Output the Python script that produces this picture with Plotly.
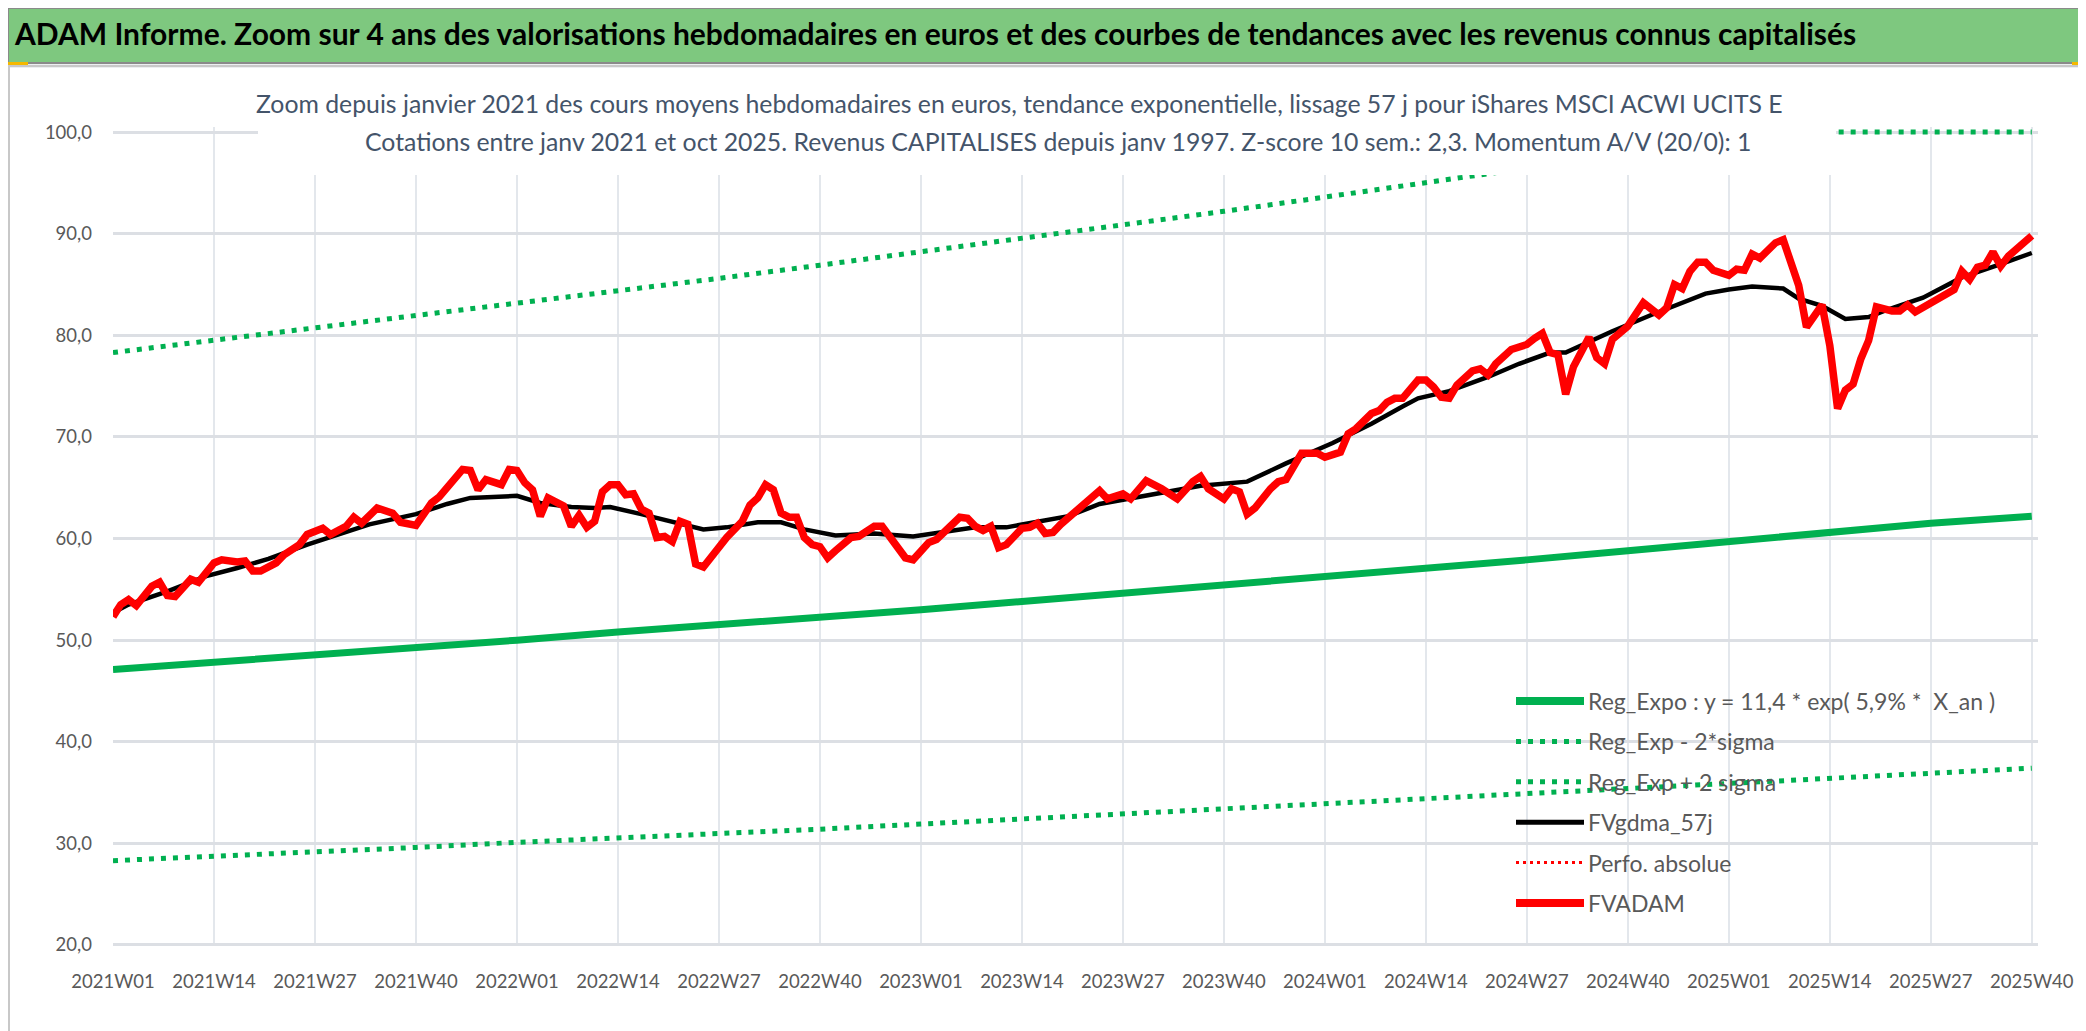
import plotly.graph_objs as go

# --- data (week index 0 = 2021W01) ---
tick_weeks = [0, 13, 26, 39, 52, 65, 78, 91, 104, 117, 130, 143, 156, 169, 182, 195, 208, 221, 234, 247]
tick_labels = ["2021W01", "2021W14", "2021W27", "2021W40", "2022W01", "2022W14", "2022W27", "2022W40",
               "2023W01", "2023W14", "2023W27", "2023W40", "2024W01", "2024W14", "2024W27", "2024W40",
               "2025W01", "2025W14", "2025W27", "2025W40"]

reg_expo = [47.1, 47.8, 48.6, 49.3, 50.0, 50.8, 51.5, 52.3, 53.0, 53.8,
            54.6, 55.4, 56.2, 57.1, 57.9, 58.8, 59.7, 60.6, 61.5, 62.2]
reg_minus = [28.3, 28.7, 29.2, 29.6, 30.1, 30.5, 31.0, 31.4, 31.9, 32.4,
             32.8, 33.3, 33.8, 34.3, 34.8, 35.3, 35.8, 36.4, 36.9, 37.4]
reg_plus = [78.3, 79.5, 80.7, 81.9, 83.1, 84.3, 85.6, 86.9, 88.2, 89.5,
            90.8, 92.2, 93.6, 95.0, 96.4, 97.8, 99.3, 100.0, 100.0, 100.0]

gdma_weeks = [0, 2, 7, 12, 16, 20, 25, 29, 33, 39, 43, 46, 50, 52, 55, 59, 62, 64, 68, 72,
              76, 79, 83, 86, 89, 93, 98, 103, 107, 111, 115, 119, 123, 127, 132, 136, 140, 146, 151, 157,
              162, 166, 168, 172, 177, 181, 185, 187, 189, 193, 198, 202, 205, 208, 211, 215, 217, 220, 223, 226,
              228, 233, 238, 243, 247]
gdma_values = [52.7, 53.5, 54.8, 56.3, 57.1, 58.0, 59.4, 60.4, 61.4, 62.4, 63.4, 64.0, 64.1, 64.2, 63.5, 63.1, 63.0, 63.1, 62.4, 61.6,
               60.9, 61.1, 61.6, 61.6, 60.9, 60.3, 60.5, 60.2, 60.6, 61.1, 61.1, 61.6, 62.2, 63.4, 64.1, 64.7, 65.2, 65.6, 67.4, 69.4,
               71.3, 73.0, 73.8, 74.5, 75.9, 77.2, 78.3, 78.3, 79.0, 80.4, 82.0, 83.2, 84.1, 84.5, 84.8, 84.6, 83.6, 82.9, 81.6, 81.8,
               82.4, 83.7, 85.7, 87.0, 88.1]

adam_weeks = [0, 1, 2, 3, 5, 6, 7, 8, 10, 11, 13, 14, 16, 17, 18, 19, 21, 22, 24, 25,
              27, 28, 30, 31, 32, 34, 36, 37, 39, 41, 42, 43, 44, 45, 46, 47, 48, 50, 51, 52,
              53, 54, 55, 56, 58, 59, 60, 61, 62, 63, 64, 65, 66, 67, 68, 69, 70, 71, 72, 73,
              74, 75, 76, 78, 79, 81, 82, 83, 84, 85, 86, 87, 88, 89, 90, 91, 92, 93, 95, 96,
              97, 98, 99, 100, 101, 102, 103, 104, 105, 106, 107, 108, 109, 110, 111, 112, 113, 114, 115, 116,
              117, 118, 119, 120, 121, 122, 123, 124, 125, 127, 128, 130, 131, 133, 135, 137, 139, 140, 141, 143,
              144, 145, 146, 147, 149, 150, 151, 153, 155, 156, 158, 159, 160, 162, 163, 164, 165, 166, 168, 169,
              170, 171, 172, 173, 175, 176, 177, 178, 180, 182, 183, 184, 185, 186, 187, 188, 190, 191, 192, 193,
              195, 197, 199, 200, 201, 202, 203, 204, 205, 206, 208, 209, 210, 211, 212, 214, 215, 216, 217, 218,
              219, 220, 221, 222, 223, 224, 225, 226, 227, 229, 230, 231, 232, 233, 235, 237, 238, 239, 240, 241,
              242, 243, 244, 245, 246, 247]
adam_values = [52.3, 53.5, 54.0, 53.4, 55.3, 55.7, 54.4, 54.3, 56.0, 55.7, 57.6, 57.9, 57.7, 57.8, 56.8, 56.8, 57.6, 58.4, 59.4, 60.4,
               61.0, 60.4, 61.2, 62.1, 61.5, 63.0, 62.5, 61.6, 61.3, 63.5, 64.1, 65.0, 65.7, 66.8, 66.7, 64.8, 65.8, 65.3, 66.8, 66.7,
               65.5, 64.8, 62.2, 64.0, 63.2, 61.2, 62.3, 61.1, 61.7, 64.6, 65.3, 65.3, 64.3, 64.4, 62.9, 62.5, 60.1, 60.2, 59.7, 61.7,
               61.4, 57.5, 57.2, 59.1, 60.1, 61.7, 63.3, 64.0, 65.3, 64.8, 62.5, 62.1, 62.1, 60.1, 59.4, 59.2, 58.1, 58.8, 60.1, 60.2,
               60.8, 61.2, 61.2, 60.2, 59.4, 58.1, 57.9, 58.8, 59.6, 59.9, 60.6, 61.4, 62.1, 62.0, 61.2, 60.8, 61.2, 59.1, 59.4, 60.2,
               61.0, 61.1, 61.5, 60.5, 60.6, 61.4, 62.1, 62.8, 63.4, 64.7, 63.9, 64.4, 63.9, 65.7, 64.9, 63.9, 65.6, 66.1, 64.9, 63.9,
               64.9, 64.6, 62.4, 63.0, 64.9, 65.6, 65.8, 68.4, 68.4, 68.0, 68.5, 70.3, 70.8, 72.3, 72.6, 73.4, 73.8, 73.8, 75.6, 75.6,
               74.9, 73.9, 73.8, 75.1, 76.5, 76.7, 76.1, 77.2, 78.6, 79.1, 79.7, 80.2, 78.3, 78.1, 74.2, 76.9, 79.8, 77.8, 77.2, 79.6,
               80.9, 83.2, 82.0, 82.7, 85.0, 84.6, 86.3, 87.2, 87.2, 86.4, 85.9, 86.5, 86.4, 88.0, 87.6, 89.1, 89.4, 87.3, 84.9, 80.8,
               81.9, 83.0, 79.0, 72.8, 74.6, 75.2, 77.7, 79.5, 82.8, 82.4, 82.4, 83.0, 82.3, 82.7, 83.6, 84.5, 86.3, 85.5, 86.7, 86.9,
               88.2, 86.8, 87.8, 88.5, 89.3, 89.8]

y_ticks = [20, 30, 40, 50, 60, 70, 80, 90, 100]

main_title = ("ADAM Informe. Zoom sur 4 ans des valorisations hebdomadaires en euros et des courbes "
              "de tendances avec les revenus connus capitalisés")
chart_title_1 = ("Zoom depuis janvier 2021 des cours moyens hebdomadaires en euros, tendance exponentielle, "
                 "lissage 57 j pour iShares MSCI ACWI UCITS E")
chart_title_2 = ("Cotations entre janv 2021 et oct 2025. Revenus CAPITALISES depuis janv 1997. "
                 "Z-score 10 sem.: 2,3. Momentum A/V (20/0): 1")

GREEN = "#00b050"
RED = "#ff0000"
GREY_TXT = "#595959"
FONT = "Lato, Liberation Sans, sans-serif"

FIG_W, FIG_H = 2086, 1031
M_L, M_R, M_T, M_B = 105, 56, 119, 93
PLOT_W = FIG_W - M_L - M_R
PLOT_H = FIG_H - M_T - M_B


def px(x):
    return (x - M_L) / PLOT_W


def py(y):
    return (FIG_H - M_B - y) / PLOT_H


fig = go.Figure()

fig.add_trace(go.Scatter(x=tick_weeks, y=reg_expo, mode="lines",
                         line=dict(color=GREEN, width=7)))
fig.add_trace(go.Scatter(x=tick_weeks, y=reg_minus, mode="lines",
                         line=dict(color=GREEN, width=5, dash="5px,7px")))
fig.add_trace(go.Scatter(x=tick_weeks, y=reg_plus, mode="lines",
                         line=dict(color=GREEN, width=5, dash="5px,7px")))
fig.add_trace(go.Scatter(x=gdma_weeks, y=gdma_values, mode="lines",
                         line=dict(color="black", width=4.5)))
fig.add_trace(go.Scatter(x=adam_weeks, y=adam_values, mode="lines",
                         line=dict(color=RED, width=7.5)))

shapes = []
annotations = []

# title band
shapes.append(dict(type="rect", xref="paper", yref="paper", layer="above",
                   x0=px(0), x1=px(FIG_W), y0=py(0), y1=py(55),
                   fillcolor="#7ec87f", line=dict(color="#8a8a8a", width=2)))
shapes.append(dict(type="line", xref="paper", yref="paper",
                   x0=px(0), x1=px(FIG_W), y0=py(58), y1=py(58),
                   line=dict(color="#dcdfe4", width=3)))
annotations.append(dict(xref="paper", yref="paper", x=px(4), y=py(25),
                        xanchor="left", yanchor="middle", showarrow=False,
                        text="<b>" + main_title + "</b>",
                        font=dict(family=FONT, size=30, color="black")))

# chart frame + excel selection handles
shapes.append(dict(type="rect", xref="paper", yref="paper",
                   x0=px(1), x1=px(2081), y0=py(58), y1=py(1027),
                   line=dict(color="#c8c8c8", width=2)))
for (x0, x1, y0, y1) in [(0, 20, 54, 57), (2064, 2084, 54, 57), (2081, 2084, 54, 80), (2081, 2084, 985, 1029)]:
    shapes.append(dict(type="rect", xref="paper", yref="paper",
                       x0=px(x0), x1=px(x1), y0=py(y0), y1=py(y1),
                       fillcolor="#f5b800", line=dict(width=0)))

# white box behind the chart title (covers the plot like in Excel)
shapes.append(dict(type="rect", xref="paper", yref="paper", layer="above",
                   x0=px(250), x1=px(1828), y0=py(60), y1=py(167),
                   fillcolor="white", line=dict(width=0)))
annotations.append(dict(xref="paper", yref="paper", x=px(1011), y=py(95),
                        xanchor="center", yanchor="middle", showarrow=False,
                        text=chart_title_1, font=dict(family=FONT, size=24.8, color="#44546a")))
annotations.append(dict(xref="paper", yref="paper", x=px(1050), y=py(133),
                        xanchor="center", yanchor="middle", showarrow=False,
                        text=chart_title_2, font=dict(family=FONT, size=24.8, color="#44546a")))

# legend drawn by hand (long Excel-style symbols)
legend_items = [
    ("Reg_Expo : y = 11,4 * exp( 5,9% *  X_an )", GREEN, 8, None),
    ("Reg_Exp - 2*sigma", GREEN, 5, "5px,7px"),
    ("Reg_Exp + 2 sigma", GREEN, 5, "5px,7px"),
    ("FVgdma_57j", "black", 5, None),
    ("Perfo. absolue", RED, 3, "3px,4px"),
    ("FVADAM", RED, 8, None),
]
for i, (name, color, width, dash) in enumerate(legend_items):
    yc = 693 + 40.4 * i
    line = dict(color=color, width=width)
    if dash:
        line["dash"] = dash
    shapes.append(dict(type="line", xref="paper", yref="paper", layer="above",
                       x0=px(1508), x1=px(1576), y0=py(yc), y1=py(yc), line=line))
    annotations.append(dict(xref="paper", yref="paper", x=px(1578), y=py(yc),
                            xanchor="left", yanchor="middle", showarrow=False,
                            text=name, font=dict(family=FONT, size=23, color=GREY_TXT)))

fig.update_layout(
    width=FIG_W, height=FIG_H, autosize=False,
    margin=dict(l=M_L, r=M_R, t=M_T, b=M_B, pad=0, autoexpand=False),
    paper_bgcolor="white", plot_bgcolor="white",
    separators=", ",
    showlegend=False,
    shapes=shapes,
    annotations=annotations,
    font=dict(family=FONT, color=GREY_TXT),
    xaxis=dict(range=[0, 247.8], tickmode="array", tickvals=tick_weeks, ticktext=tick_labels,
               showgrid=True, gridcolor="#e3e7ec", gridwidth=1.5, zeroline=False, automargin=False,
               showline=False, ticks="", ticklabelstandoff=22,
               tickfont=dict(family=FONT, size=18.5, color=GREY_TXT)),
    yaxis=dict(range=[19.9, 100.5], tickmode="array", tickvals=y_ticks, tickformat=".1f",
               showgrid=True, gridcolor="#dcdfe4", gridwidth=2.5, zeroline=False, automargin=False,
               showline=False, ticks="", ticklabelstandoff=20,
               tickfont=dict(family=FONT, size=18.5, color=GREY_TXT)),
)

fig.write_html("out.html")
